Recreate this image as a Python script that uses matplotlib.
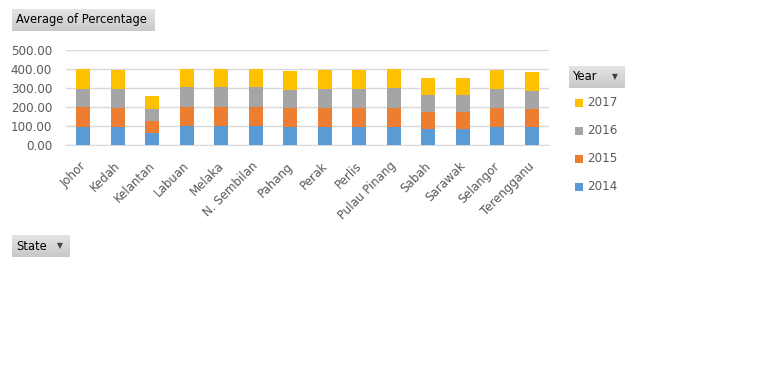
import matplotlib
matplotlib.use("Agg")
import matplotlib.pyplot as plt
import matplotlib.transforms as mtransforms
from matplotlib.colors import LinearSegmentedColormap
from matplotlib.patches import Rectangle
import numpy as np

States = ["Johor", "Kedah", "Kelantan", "Labuan", "Melaka", "N. Sembilan",
          "Pahang", "Perak", "Perlis", "Pulau Pinang", "Sabah", "Sarawak",
          "Selangor", "Terengganu"]
Years = ["2014", "2015", "2016", "2017"]

Y2014 = [97, 97, 61, 98, 98, 98, 96, 96, 96, 96, 86, 86, 96, 96]
Y2015 = [101, 100, 67, 104, 104, 104, 100, 100, 100, 100, 89, 89, 100, 95]
Y2016 = [98, 99, 63, 101, 101, 101, 95, 100, 100, 106, 90, 90, 100, 95]
Y2017 = [102, 97, 69, 99, 99, 99, 100, 100, 100, 100, 89, 89, 100, 100]

YTicks = [0, 100, 200, 300, 400, 500]

Colors = ['#5B9BD5', '#ED7D31', '#A5A5A5', '#FFC000']
W, H = 782, 368
TXT = '#595959'


def fx(x):
    return x / W


def fy(y):
    return 1 - y / H


fig = plt.figure(figsize=(W / 100, H / 100), dpi=100)
ax = fig.add_axes([fx(66), fy(145), fx(549) - fx(66), fy(50) - fy(145)])

x = np.arange(len(States))
bottom = np.zeros(len(States))
series = [Y2014, Y2015, Y2016, Y2017]
for vals, c, yr in zip(series, Colors, Years):
    ax.bar(x, vals, width=0.4, bottom=bottom, color=c, label=yr, zorder=3)
    bottom += np.array(vals)

ax.set_xlim(-0.5, len(States) - 0.5)
ax.set_ylim(0, 500)
ax.set_yticks(YTicks)
ax.set_yticklabels(["{:.2f}".format(v) for v in YTicks])
ax.grid(axis='y', color='#D9D9D9', linewidth=1, zorder=0)
for s in ['left', 'right', 'top']:
    ax.spines[s].set_visible(False)
ax.spines['bottom'].set_color('#D9D9D9')
ax.tick_params(axis='y', length=0, pad=10, labelsize=8.6, labelcolor=TXT)
ax.tick_params(axis='x', length=0, pad=4, labelsize=8.5, labelcolor=TXT)
ax.set_xticks(x)
ax.set_xticklabels(States, rotation=45, ha='right', rotation_mode='anchor')
# nudge rotated labels down/left like Excel does
off = mtransforms.ScaledTranslation(-4 / 100, -9 / 100, fig.dpi_scale_trans)
for lab in ax.get_xticklabels():
    lab.set_transform(lab.get_transform() + off)

grad = LinearSegmentedColormap.from_list('btn', ['#E4E4E4', '#C9C9C9'])


# pivot field buttons
def button(x0, y0, x1, y1, label, arrow=False):
    bax = fig.add_axes([fx(x0), fy(y1), fx(x1) - fx(x0), fy(y0) - fy(y1)])
    bax.imshow(np.linspace(0, 1, 32).reshape(-1, 1), aspect='auto', cmap=grad)
    bax.set_axis_off()
    fig.text(fx(x0 + 4), fy((y0 + y1) / 2), label, fontsize=8.3, color='black',
             va='center', ha='left')
    if arrow:
        fig.text(fx(x1 - 10), fy((y0 + y1) / 2), u'\u25BC', fontsize=5.5,
                 color='#404040', va='center', ha='center')


button(12, 9, 155, 31, "Average of Percentage")
button(12, 235, 70, 257, "State", arrow=True)
button(569, 66, 625, 88, "Year", arrow=True)

# legend
LegY = [187, 159, 131, 103]
for yr, c, ly in zip(Years, Colors, LegY):
    fig.patches.append(Rectangle((fx(575), fy(ly + 4)), fx(8), 8 / H,
                                 transform=fig.transFigure, facecolor=c,
                                 edgecolor='none'))
    fig.text(fx(587), fy(ly), yr, fontsize=8.6, color=TXT, va='center', ha='left')

fig.savefig("out.png", dpi=100)
